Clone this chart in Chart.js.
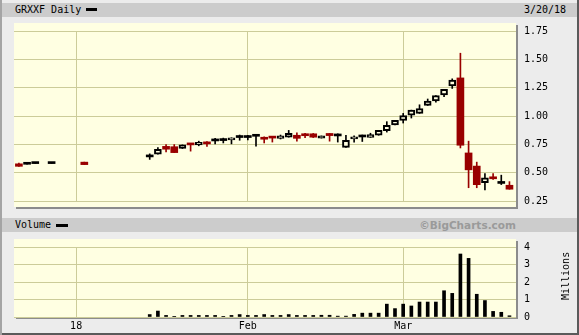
<!DOCTYPE html>
<html>
<head>
<meta charset="utf-8">
<script src="https://cdn.jsdelivr.net/npm/chart.js@4.4.0/dist/chart.umd.min.js"></script>
<style>
  html, body { margin: 0; padding: 0; background: #ececec; }
  #frame {
    position: absolute; left: 0; top: 0; width: 579px; height: 335px;
    background: #ececec; overflow: hidden;
    box-shadow: inset 2px 0 0 #a4a4a4, inset -2px -2px 0 #5a5a5a;
    font-family: "DejaVu Sans Mono", monospace; font-size: 10px; color: #000;
  }
  .band { position: absolute; left: 2px; width: 575px; height: 14px; background: #cccccc; }
  .txt { position: absolute; line-height: 14px; white-space: nowrap; }
  .dash { position: absolute; background: #000; }
  .plotbg { position: absolute; left: 14px; width: 502px; background: #ffffe2; box-shadow: 2px 2px 0 #8c8c8c; }
  canvas { position: absolute; }
</style>
</head>
<body>
<div id="frame">
  <div class="band" style="top:3px"></div>
  <div class="txt" style="left:15px; top:3px">GRXXF Daily</div>
  <div class="dash" style="left:86px; top:8px; width:11px; height:3px"></div>
  <div class="txt" style="left:524px; top:3px">3/20/18</div>

  <div class="plotbg" style="top:23px; height:184px"></div>
  <canvas id="priceChart" width="550" height="198" style="left:14px; top:17px"></canvas>

  <div class="band" style="top:218px"></div>
  <div class="txt" style="left:15px; top:218px">Volume</div>
  <div class="dash" style="left:56px; top:224px; width:12px; height:3px"></div>
  <div class="txt" style="right:63px; top:218px; font-family:'DejaVu Sans', sans-serif; font-weight:bold; font-size:10.5px; color:#9a9a9a">©BigCharts.com</div>

  <div class="plotbg" style="top:239px; height:78px"></div>
  <canvas id="volumeChart" width="550" height="100" style="left:14px; top:233px"></canvas>
  <div class="txt" style="left:542px; top:269px; width:48px; text-align:center; transform:rotate(-90deg)">Millions</div>
</div>

<script>
// --- 資料 ---
const dates = [
  '2017-12-20','2017-12-21','2017-12-22','2017-12-26','2017-12-27','2017-12-28','2017-12-29',
  '2018-01-02','2018-01-03','2018-01-04','2018-01-05','2018-01-08','2018-01-09','2018-01-10',
  '2018-01-11','2018-01-12','2018-01-16','2018-01-17','2018-01-18','2018-01-19','2018-01-22',
  '2018-01-23','2018-01-24','2018-01-25','2018-01-26','2018-01-29','2018-01-30','2018-01-31',
  '2018-02-01','2018-02-02','2018-02-05','2018-02-06','2018-02-07','2018-02-08','2018-02-09',
  '2018-02-12','2018-02-13','2018-02-14','2018-02-15','2018-02-16','2018-02-20','2018-02-21',
  '2018-02-22','2018-02-23','2018-02-26','2018-02-27','2018-02-28',
  '2018-03-01','2018-03-02','2018-03-05','2018-03-06','2018-03-07','2018-03-08','2018-03-09',
  '2018-03-12','2018-03-13','2018-03-14','2018-03-15','2018-03-16','2018-03-19','2018-03-20'
];

const openP = [
  0.578, 0.574, 0.580, null, 0.580, null, null,
  null, 0.593, null, null, null, null, null,
  null, null, 0.639, 0.664, 0.732, 0.729, 0.713,
  0.759, 0.745, 0.762, 0.780, 0.783, 0.789, 0.810,
  0.810, 0.821, 0.803, 0.819, 0.803, 0.813, 0.830,
  0.832, 0.843, 0.805, 0.846, 0.824, 0.723, 0.797,
  0.815, 0.811, 0.830, 0.870, 0.922,
  0.960, 1.007, 1.023, 1.093, 1.132, 1.186, 1.265,
  1.336, 0.674, 0.558, 0.411, 0.462, 0.405, 0.389
];
const highP = [
  0.585, 0.574, 0.580, null, 0.580, null, null,
  null, 0.593, null, null, null, null, null,
  null, null, 0.666, 0.721, 0.748, 0.748, 0.745,
  0.759, 0.778, 0.775, 0.803, 0.805, 0.808, 0.832,
  0.830, 0.826, 0.816, 0.819, 0.832, 0.873, 0.852,
  0.848, 0.846, 0.824, 0.846, 0.843, 0.830, 0.824,
  0.832, 0.848, 0.873, 0.950, 0.962,
  1.023, 1.052, 1.099, 1.150, 1.180, 1.235, 1.328,
  1.554, 0.778, 0.593, 0.492, 0.492, 0.478, 0.421
];
const lowP = [
  0.556, 0.574, 0.580, null, 0.580, null, null,
  null, 0.571, null, null, null, null, null,
  null, null, 0.617, 0.664, 0.683, 0.677, 0.713,
  0.690, 0.737, 0.732, 0.754, 0.762, 0.754, 0.786,
  0.790, 0.734, 0.762, 0.770, 0.797, 0.813, 0.778,
  0.808, 0.810, 0.805, 0.778, 0.770, 0.723, 0.770,
  0.775, 0.811, 0.830, 0.858, 0.922,
  0.938, 0.982, 1.023, 1.093, 1.121, 1.170, 1.243,
  0.718, 0.367, 0.367, 0.348, 0.440, 0.395, 0.354
];
const closeP = [
  0.556, 0.574, 0.580, null, 0.580, null, null,
  null, 0.571, null, null, null, null, null,
  null, null, 0.639, 0.705, 0.707, 0.677, 0.745,
  0.745, 0.767, 0.754, 0.780, 0.783, 0.808, 0.810,
  0.810, 0.821, 0.795, 0.805, 0.824, 0.848, 0.803,
  0.826, 0.813, 0.824, 0.827, 0.824, 0.786, 0.816,
  0.815, 0.835, 0.873, 0.918, 0.962,
  1.003, 1.052, 1.066, 1.132, 1.180, 1.235, 1.317,
  0.742, 0.525, 0.394, 0.454, 0.446, 0.405, 0.354
];

// 成交量 (百萬股)
const volumeM = [
  0, 0, 0, null, 0, null, null,
  null, 0, null, null, null, null, null,
  null, null, 0.14, 0.34, 0.09, 0.04, 0.09,
  0.09, 0.09, 0.09, 0.09, 0.04, 0.09, 0.14,
  0.09, 0.09, 0.14, 0.09, 0.09, 0.14, 0.09,
  0.09, 0.09, 0.10, 0.10, 0.05, 0.05, 0.15,
  0.22, 0.22, 0.22, 0.735, 0.48,
  0.735, 0.63, 0.855, 0.855, 0.855, 1.50, 1.35,
  3.60, 3.35, 1.30, 0.94, 0.32, 0.27, 0.07
];

const priceTicks = [0.25, 0.50, 0.75, 1.00, 1.25, 1.50, 1.75];
const volumeTicks = [0, 1, 2, 3, 4];
const monthTickDates = ['2018-01-02', '2018-02-01', '2018-03-01'];
const monthTickLabels = ['18', 'Feb', 'Mar'];

// --- 樣式 ---
const RED = '#990000';
const PLOT_BG = '#ffffe2';
const GRID = '#cccc99';

Chart.defaults.font.family = '"DejaVu Sans Mono", monospace';
Chart.defaults.font.size = 10;
Chart.defaults.color = '#000';

const monthTickIdx = monthTickDates.map(d => dates.indexOf(d));
const X_MIN = -0.6, X_MAX = 60.8;

function kind(i) {
  if (closeP[i] > openP[i]) return 'up';
  if (closeP[i] < openP[i]) return 'down';
  return 'flat';
}

function xScale(showLabels, height) {
  return {
    type: 'linear',
    min: X_MIN,
    max: X_MAX,
    offset: false,
    afterBuildTicks: s => { s.ticks = monthTickIdx.map(v => ({ value: v })); },
    afterFit: s => { s.height = height; },
    grid: { color: GRID, drawTicks: false, offset: false },
    border: { display: false },
    ticks: {
      display: showLabels,
      autoSkip: false,
      maxRotation: 0,
      padding: 3,
      callback: v => monthTickLabels[monthTickIdx.indexOf(v)] || ''
    }
  };
}

function yScale(ticks, fmt) {
  return {
    position: 'right',
    min: ticks[0],
    max: ticks[ticks.length - 1],
    afterBuildTicks: s => { s.ticks = ticks.map(v => ({ value: v })); },
    afterFit: s => { s.width = 48; },
    grid: { color: GRID, drawTicks: false },
    border: { display: false },
    ticks: { padding: 8, callback: fmt }
  };
}

const present = dates.map((d, i) => i).filter(i => openP[i] !== null);

// --- K 線圖 ---
new Chart(document.getElementById('priceChart'), {
  type: 'bar',
  data: {
    datasets: [{
      // 實體
      data: present.map(i => ({ x: i, y: [openP[i], closeP[i]] })),
      barThickness: 7,
      minBarLength: 2,
      borderSkipped: false,
      backgroundColor: c => !c.raw ? '#000' : ({ up: PLOT_BG, down: RED, flat: '#000' })[kind(c.raw.x)],
      borderColor: c => !c.raw ? '#000' : (kind(c.raw.x) === 'down' ? RED : '#000'),
      borderWidth: c => !c.raw ? 0 : (kind(c.raw.x) === 'up' ? 2 : 0)
    }, {
      // 影線
      data: present.map(i => ({ x: i, y: [lowP[i], highP[i]] })),
      barThickness: 1,
      backgroundColor: c => !c.raw ? '#000' : (kind(c.raw.x) === 'down' ? RED : '#000')
    }]
  },
  options: {
    responsive: false,
    animation: false,
    grouped: false,
    layout: { padding: { top: 6, left: 0, right: 0, bottom: 0 } },
    plugins: { legend: { display: false }, tooltip: { enabled: false } },
    scales: {
      x: xScale(false, 8),
      y: yScale(priceTicks, v => v.toFixed(2))
    }
  }
});

// --- 成交量 ---
const volIdx = dates.map((d, i) => i).filter(i => volumeM[i] > 0);
new Chart(document.getElementById('volumeChart'), {
  type: 'bar',
  data: {
    datasets: [{
      data: volIdx.map(i => ({ x: i, y: volumeM[i] })),
      barThickness: 3,
      backgroundColor: '#000'
    }]
  },
  options: {
    responsive: false,
    animation: false,
    layout: { padding: { top: 6, left: 0, right: 0, bottom: 0 } },
    plugins: { legend: { display: false }, tooltip: { enabled: false } },
    scales: {
      x: xScale(true, 16),
      y: yScale(volumeTicks, v => String(v))
    }
  }
});
</script>
</body>
</html>
